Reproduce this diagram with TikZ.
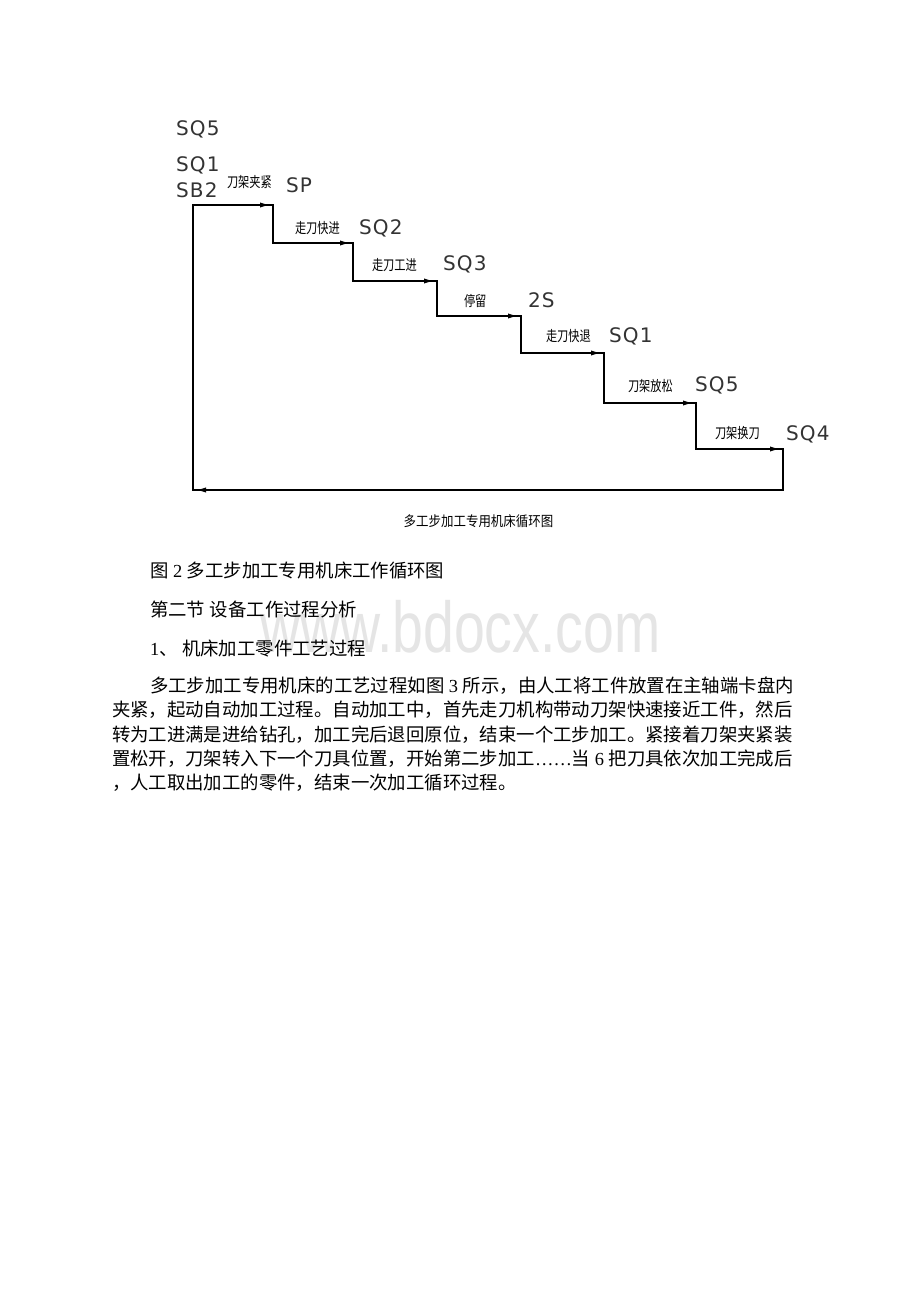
\documentclass[tikz,border=0pt]{standalone}
\usepackage{fontspec}
\setmainfont{Liberation Serif}
\newfontfamily\cjk{Noto Sans CJK SC}
\newfontfamily\cjknarrow{Noto Sans CJK SC}[FakeStretch=0.78]
\newfontfamily\cjkcap{Noto Sans CJK SC}[FakeStretch=0.89]
\newfontfamily\cadfont{DejaVu Sans}[LetterSpace=6]
\newfontfamily\wmfont{Liberation Sans}[FakeStretch=0.77]
\usetikzlibrary{arrows.meta,decorations.markings}
\newcommand\romn[1]{{\rmfamily #1}}
\begin{document}
\begin{tikzpicture}[x=0.5pt,y=-0.5pt,
  every node/.style={inner sep=0pt,outer sep=0pt},
  ln/.style={line width=0.65pt,line join=miter},
  flow/.style={line width=0.65pt,postaction={decorate},
    decoration={markings,mark=at position -1.5pt with {\arrow{Latex[length=5pt,width=2.6pt]}}}},
  cad/.style={anchor=west,font=\cadfont\fontsize{10pt}{12pt}\selectfont,text=black!80},
  zh/.style={anchor=west,font=\cjknarrow\fontsize{7.2pt}{8pt}\selectfont},
  body/.style={anchor=west,font=\cjk\fontsize{9.2pt}{12pt}\selectfont},
  wm/.style={anchor=base west,font=\wmfont\fontsize{36pt}{40pt}\selectfont,text=black!10}]
\useasboundingbox[fill=white] (0,0) rectangle (920,1302);

% watermark
\node[wm] (wmark) at (260,652) {www.bdocx.com};

% cycle corners
\coordinate (c0) at (193,205);
\coordinate (c1) at (273,205);
\coordinate (c2) at (273,243);
\coordinate (c3) at (353,243);
\coordinate (c4) at (353,281);
\coordinate (c5) at (437,281);
\coordinate (c6) at (437,316);
\coordinate (c7) at (521,316);
\coordinate (c8) at (521,353);
\coordinate (c9) at (604,353);
\coordinate (c10) at (604,403);
\coordinate (c11) at (696,403);
\coordinate (c12) at (696,449);
\coordinate (c13) at (783,449);
\coordinate (c14) at (783,490);
\coordinate (c15) at (193,490);

\draw[ln] (c0) -- (c1) -- (c2) -- (c3) -- (c4) -- (c5) -- (c6) -- (c7) -- (c8)
  -- (c9) -- (c10) -- (c11) -- (c12) -- (c13) -- (c14) -- (c15) -- cycle;
\draw[flow] (c0) -- (c1);
\draw[flow] (c2) -- (c3);
\draw[flow] (c4) -- (c5);
\draw[flow] (c6) -- (c7);
\draw[flow] (c8) -- (c9);
\draw[flow] (c10) -- (c11);
\draw[flow] (c12) -- (c13);
\draw[flow] (c14) -- (c15);

% CAD labels
\node[cad] (sq5a) at (176,129) {SQ5};
\node[cad] (sq1a) at (176,165.5) {SQ1};
\node[cad] (sb2) at (176,190.5) {SB2};
\node[zh] (l1) at (227,182) {刀架夹紧};
\node[cad] (sp) at (286,185.5) {SP};
\node[zh] (l2) at (295,228.5) {走刀快进};
\node[cad] (sq2) at (359,228.5) {SQ2};
\node[zh] (l3) at (372,265) {走刀工进};
\node[cad] (sq3) at (443,264.5) {SQ3};
\node[zh] (l4) at (464,301) {停留};
\node[cad] (s2) at (528,300) {2S};
\node[zh] (l5) at (546,336.5) {走刀快退};
\node[cad] (sq1b) at (609,336) {SQ1};
\node[zh] (l6) at (628,386.5) {刀架放松};
\node[cad] (sq5b) at (695,385.5) {SQ5};
\node[zh] (l7) at (715,433.5) {刀架换刀};
\node[cad] (sq4) at (786,434.5) {SQ4};

% caption
\node[font=\cjkcap\fontsize{7pt}{8pt}\selectfont] (cap) at (478.5,521.5) {多工步加工专用机床循环图};

% body text
\node[body] (t1) at (150,571) {图\romn{ 2 }多工步加工专用机床工作循环图};
\node[body] (t2) at (150,609) {第二节\romn{ }设备工作过程分析};
\node[body] (t3) at (150,649) {\romn{1}、\romn{ }机床加工零件工艺过程};
\node[body] (p1) at (150,686) {多工步加工专用机床的工艺过程如图\romn{ 3 }所示，由人工将工件放置在主轴端卡盘内};
\node[body] (p2) at (112,710) {夹紧，起动自动加工过程。自动加工中，首先走刀机构带动刀架快速接近工件，然后};
\node[body] (p3) at (112,735) {转为工进满是进给钻孔，加工完后退回原位，结束一个工步加工。紧接着刀架夹紧装};
\node[body] (p4) at (112,759) {置松开，刀架转入下一个刀具位置，开始第二步加工\romn{……}当\romn{ 6 }把刀具依次加工完成后};
\node[body] (p5) at (112,783) {，人工取出加工的零件，结束一次加工循环过程。};
\end{tikzpicture}
\end{document}
